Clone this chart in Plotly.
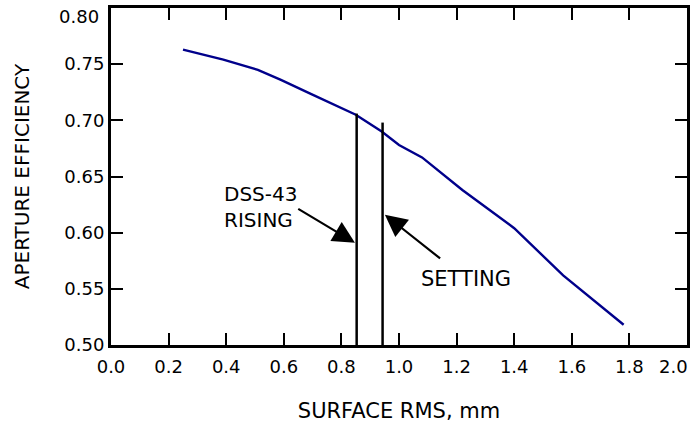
import plotly.graph_objects as go

# Aperture efficiency vs surface RMS
surface_rms = [0.25, 0.39, 0.51, 0.59, 0.69, 0.85, 0.94, 1.00, 1.08, 1.22, 1.40, 1.57, 1.78]
efficiency = [0.763, 0.754, 0.745, 0.736, 0.724, 0.705, 0.690, 0.678, 0.667, 0.638, 0.604, 0.562, 0.518]

# Marker lines for DSS-43 rising / setting
rising_x = [0.853, 0.853]
rising_y = [0.50, 0.706]
setting_x = [0.943, 0.943]
setting_y = [0.50, 0.698]

# Annotation arrows (tail -> tip) in data units
rising_arrow_tail = (0.645, 0.622)
rising_arrow_tip = (0.847, 0.591)
setting_arrow_tail = (1.148, 0.576)
setting_arrow_tip = (0.951, 0.616)

x_ticks = [0.0, 0.2, 0.4, 0.6, 0.8, 1.0, 1.2, 1.4, 1.6, 1.8, 2.0]
x_tick_labels = ["0.0", "0.2", "0.4", "0.6", "0.8", "1.0", "1.2", "1.4", "1.6", "1.8", "2.0"]
y_ticks = [0.50, 0.55, 0.60, 0.65, 0.70, 0.75, 0.80]
y_tick_labels = ["0.50", "0.55", "0.60", "0.65", "0.70", "0.75", "0.80"]

FONT = "DejaVu Sans"
TICK_FONT = dict(family=FONT, size=18, color="black")

fig = go.Figure()
fig.add_trace(go.Scatter(x=surface_rms, y=efficiency, mode="lines",
                         line=dict(color="#00008B", width=2.4), showlegend=False))
fig.add_trace(go.Scatter(x=rising_x, y=rising_y, mode="lines",
                         line=dict(color="black", width=2.5), showlegend=False))
fig.add_trace(go.Scatter(x=setting_x, y=setting_y, mode="lines",
                         line=dict(color="black", width=2.5), showlegend=False))

for tail, tip in [(rising_arrow_tail, rising_arrow_tip), (setting_arrow_tail, setting_arrow_tip)]:
    fig.add_annotation(x=tip[0], y=tip[1], ax=tail[0], ay=tail[1],
                       xref="x", yref="y", axref="x", ayref="y",
                       text="", showarrow=True, arrowhead=2, arrowsize=2.0,
                       arrowwidth=2.2, arrowcolor="black")

fig.add_annotation(x=0.384, y=0.623, xref="x", yref="y", text="DSS-43<br>RISING",
                   showarrow=False, xanchor="left", yanchor="middle", align="left",
                   font=dict(family=FONT, size=20, color="black"))
fig.add_annotation(x=1.232, y=0.5586, xref="x", yref="y", text="SETTING",
                   showarrow=False, xanchor="center", yanchor="middle",
                   font=dict(family=FONT, size=21, color="black"))

# End tick labels nudged inside the page (as in the reference)
fig.add_annotation(x=x_ticks[-1], y=0, xref="x", yref="paper", text=x_tick_labels[-1],
                   showarrow=False, xanchor="right", yanchor="middle",
                   xshift=3, yshift=-21, font=TICK_FONT)
fig.add_annotation(x=0, y=y_ticks[-1], xref="paper", yref="y", text=y_tick_labels[-1],
                   showarrow=False, xanchor="right", yanchor="top",
                   xshift=-10, yshift=4, font=TICK_FONT)

axis_common = dict(showline=True, linewidth=3, linecolor="black", mirror="ticks",
                   ticks="inside", ticklen=12, tickwidth=1.5, tickcolor="black",
                   showgrid=False, zeroline=False, automargin=False,
                   tickfont=TICK_FONT)

fig.update_xaxes(range=[0, 2.0], tickvals=x_ticks, ticktext=x_tick_labels[:-1] + [""],
                 ticklabelstandoff=3,
                 title=dict(text="SURFACE RMS, mm", font=dict(family=FONT, size=21, color="black"),
                            standoff=28),
                 **axis_common)
fig.update_yaxes(range=[0.50, 0.80], tickvals=y_ticks, ticktext=y_tick_labels[:-1] + [""],
                 ticklabelstandoff=0,
                 title=dict(text="APERTURE EFFICIENCY", font=dict(family=FONT, size=20, color="black"),
                            standoff=30),
                 **axis_common)

fig.update_layout(width=690, height=423, margin=dict(l=111, r=3, t=8, b=78),
                  paper_bgcolor="white", plot_bgcolor="white")

fig.write_html("out.html", config={"displayModeBar": False},
               post_script="document.body.style.margin='0px';")
